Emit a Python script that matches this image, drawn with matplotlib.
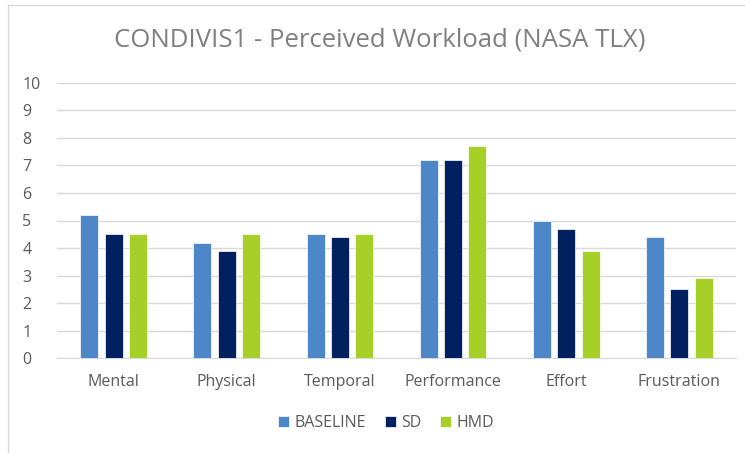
import numpy as np
import matplotlib.pyplot as plt
from matplotlib.patches import Rectangle

categories = ["Mental", "Physical", "Temporal", "Performance", "Effort", "Frustration"]
baseline = [5.2, 4.2, 4.5, 7.2, 5.0, 4.4]
sd = [4.5, 3.9, 4.4, 7.2, 4.7, 2.5]
hmd = [4.5, 4.5, 4.5, 7.7, 3.9, 2.9]

series = [("BASELINE", baseline, "#4E87C7"), ("SD", sd, "#002060"), ("HMD", hmd, "#A6CF28")]

plt.rcParams['font.family'] = ['Open Sans', 'DejaVu Sans']
fig = plt.figure(figsize=(7.45, 4.53), dpi=100)
ax = fig.add_axes([57 / 745, 1 - 358.3 / 453, (736 - 57) / 745, (358.3 - 82.7) / 453])

# chart border
fig.patches.append(Rectangle((8 / 745, -0.01), 1.0, 1 - 5 / 453 + 0.01, transform=fig.transFigure,
                             fill=False, edgecolor="#D9D9D9", linewidth=1))

x = np.arange(len(categories))
w = 0.16
pitch = 0.215
for i, (name, vals, col) in enumerate(series):
    ax.bar(x + (i - 1) * pitch, vals, w, color=col, label=name, zorder=3,
           edgecolor="white", linewidth=0.5)

ax.set_xlim(-0.5, len(categories) - 0.5)
ax.set_ylim(0, 10)
ax.set_yticks(range(0, 11))
ax.yaxis.grid(True, color="#D9D9D9", linewidth=1, zorder=0)
for s in ["top", "right", "left"]:
    ax.spines[s].set_visible(False)
ax.spines["bottom"].set_color("#D9D9D9")
ax.tick_params(axis="both", length=0, colors="#595959", labelsize=11.5)
ax.tick_params(axis="x", pad=11)
ax.tick_params(axis="y", pad=25)
ax.set_xticks(x)
ax.set_xticklabels(categories)
for lbl in ax.get_yticklabels():
    lbl.set_horizontalalignment("left")

fig.text(0.5 + 7 / 745, 1 - 40 / 453, "CONDIVIS1 - Perceived Workload (NASA TLX)",
         ha="center", va="center", fontsize=18.5, color="#7F7F7F")

leg = fig.legend(loc="center", bbox_to_anchor=(386 / 745, 1 - 423 / 453), ncol=3, frameon=False,
                 fontsize=11.5, handlelength=0.7, handleheight=0.7, handletextpad=0.3, columnspacing=1.2)
for t in leg.get_texts():
    t.set_color("#595959")

fig.savefig("out.png", dpi=100)
